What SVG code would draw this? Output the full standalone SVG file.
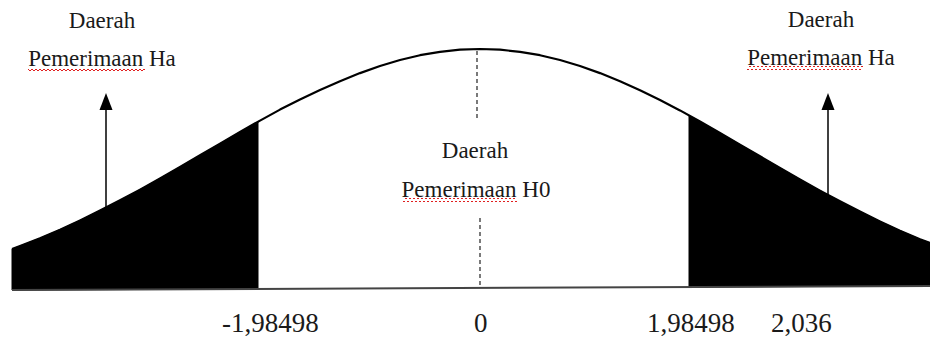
<svg xmlns="http://www.w3.org/2000/svg" width="930" height="338" viewBox="0 0 930 338">
<style>
.lbl{font-size:23px;fill:#1a1a1a;text-anchor:middle}
.num{font-size:27px;fill:#1a1a1a}
.curve{fill:none;stroke:#000;stroke-width:2.2;stroke-linejoin:round}
.tail{fill:#000;stroke:#000;stroke-width:1}
.axis{stroke:#444;stroke-width:2}
.dash{stroke:#333;stroke-width:1.3;stroke-dasharray:4 3}
.arr{stroke:#000;stroke-width:1.5}
</style>
<defs>
<pattern id="wave" patternUnits="userSpaceOnUse" width="4" height="4">
<path d="M0,1 L2,3 L4,1" fill="none" stroke="#e02020" stroke-width="1"/>
</pattern>
</defs>
<rect width="930" height="338" fill="#fff"/>
<g id="tails">
<path class="tail" d="M12,290 L12,249 L20,246 L40,238.2 L60,229.7 L80,220.4 L100,210.6 L120,200.3 L140,189.6 L160,178.4 L180,166.9 L200,155.3 L220,143.6 L240,132 L258,121.6 L258,289 Z"/>
<path class="tail" d="M689,115.5 L700,121.5 L720,133 L740,144.6 L760,156.3 L780,167.9 L800,179.4 L820,190.6 L840,201.3 L860,211.6 L880,221.4 L900,230.7 L920,239.2 L930,243 L930,286 L689,287 Z"/>
</g>
<g id="curve">
<polyline class="curve" points="12,249 20,246 40,238.2 60,229.7 80,220.4 100,210.6 120,200.3 140,189.6 160,178.4 180,166.9 200,155.3 220,143.6 240,132 260,120.6 280,109.6 300,99.4 320,90 340,81.2 360,73.1 380,66 400,60 420,55.2 440,51.8 460,49.7 480,49 500,49.7 520,51.8 540,55.2 560,60 580,66 600,73.1 620,81.2 640,90.2 660,100 680,110.4 700,121.5 720,133 740,144.6 760,156.3 780,167.9 800,179.4 820,190.6 840,201.3 860,211.6 880,221.4 900,230.7 920,239.2 930,243"/>
</g>
<g id="axis">
<line class="axis" x1="12" y1="290" x2="930" y2="286"/>
<line class="dash" x1="477" y1="51" x2="477" y2="121"/>
<line class="dash" x1="480" y1="218" x2="480" y2="288"/>
</g>
<g id="connectors">
<line class="arr" x1="106" y1="207" x2="106" y2="108"/>
<polygon points="106,93 99.5,110 112.5,110" fill="#000"/>
<line class="arr" x1="828" y1="196" x2="828" y2="108"/>
<polygon points="828,93 821.5,110 834.5,110" fill="#000"/>
</g>
<g id="label-left" font-family="Liberation Serif, Times New Roman, serif">
<text class="lbl" x="102" y="28">Daerah</text>
<rect x="28" y="67" width="117" height="4" fill="url(#wave)"/>
<text class="lbl" x="102" y="66">Pemerimaan Ha</text>
</g>
<g id="label-right" font-family="Liberation Serif, Times New Roman, serif">
<text class="lbl" x="821" y="27">Daerah</text>
<rect x="747" y="66" width="116" height="4" fill="url(#wave)"/>
<text class="lbl" x="821" y="65">Pemerimaan Ha</text>
</g>
<g id="label-center" font-family="Liberation Serif, Times New Roman, serif">
<text class="lbl" x="475" y="158">Daerah</text>
<rect x="403" y="198" width="114" height="4" fill="url(#wave)"/>
<text class="lbl" x="476" y="197">Pemerimaan H0</text>
</g>
<g id="ticks" font-family="Liberation Serif, Times New Roman, serif">
<text class="num" x="222" y="332">-1,98498</text>
<text class="num" x="474" y="332">0</text>
<text class="num" x="647" y="332">1,98498</text>
<text class="num" x="771" y="332">2,036</text>
</g>
</svg>
